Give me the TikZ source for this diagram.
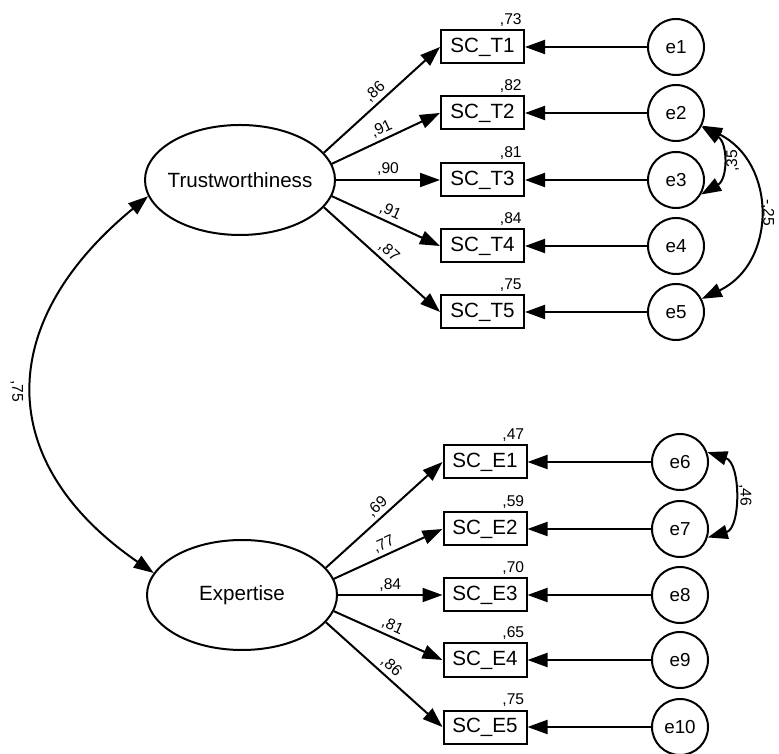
\documentclass[tikz,border=0pt]{standalone}
\usepackage{fontspec}
\setmainfont{Liberation Sans}
\usetikzlibrary{arrows.meta,shapes.geometric}

\tikzset{
  latent/.style={ellipse,draw,line width=1pt,minimum width=95pt,
    minimum height=55pt,inner sep=0pt,font=\fontsize{10.3}{12}\selectfont},
  observed/.style={rectangle,draw,line width=1pt,minimum width=41.5pt,
    minimum height=16.5pt,inner sep=0pt,font=\fontsize{10.3}{12}\selectfont},
  errterm/.style={circle,draw,line width=1pt,minimum size=28pt,
    inner sep=0pt,font=\fontsize{9.4}{11}\selectfont},
  loading/.style={-{Triangle[length=10pt,width=7pt]},line width=1pt},
  covar/.style={{Triangle[length=10pt,width=7pt]}-{Triangle[length=10pt,width=7pt]},
    line width=1pt},
  est/.style={font=\fontsize{7.8}{9}\selectfont,inner sep=1.5pt}
}

\begin{document}
\begin{tikzpicture}[x=0.5pt,y=0.5pt]
\useasboundingbox (0,0) rectangle (779,753);

% Latent factors
\node[latent] (trust) at (240,573) {\makebox[0pt]{Trustworthiness}};
\node[latent] (expert) at (242,158) {\makebox[0pt]{Expertise}};

% Trustworthiness items and error terms
\node[observed] (t1) at (482.5,706) {SC\_T1};
\node[observed] (t2) at (482.5,640) {SC\_T2};
\node[observed] (t3) at (482.5,573) {SC\_T3};
\node[observed] (t4) at (482.5,507) {SC\_T4};
\node[observed] (t5) at (482.5,441) {SC\_T5};
\node[errterm] (e1) at (676,706) {e1};
\node[errterm] (e2) at (676,640) {e2};
\node[errterm] (e3) at (676,573) {e3};
\node[errterm] (e4) at (676,507) {e4};
\node[errterm] (e5) at (676,441) {e5};

% Expertise items and error terms
\node[observed] (x1) at (485,291) {SC\_E1};
\node[observed] (x2) at (485,224) {SC\_E2};
\node[observed] (x3) at (485,158) {SC\_E3};
\node[observed] (x4) at (485,93) {SC\_E4};
\node[observed] (x5) at (485,26) {SC\_E5};
\node[errterm] (e6) at (680,291) {e6};
\node[errterm] (e7) at (680,224) {e7};
\node[errterm] (e8) at (680,158) {e8};
\node[errterm] (e9) at (680,93) {e9};
\node[errterm] (e10) at (680,26) {e10};

% Loadings of Trustworthiness
\draw[loading] (trust.18) -- node[est,sloped,above] {,86} (t1.west);
\draw[loading] (trust.10) -- node[est,sloped,above] {,91} (t2.west);
\draw[loading] (trust.0) -- node[est,sloped,above] {,90} (t3.west);
\draw[loading] (trust.-10) -- node[est,sloped,above] {,91} (t4.west);
\draw[loading] (trust.-18) -- node[est,sloped,above] {,87} (t5.west);

% Loadings of Expertise
\draw[loading] (expert.18) -- node[est,sloped,above] {,69} (x1.west);
\draw[loading] (expert.10) -- node[est,sloped,above] {,77} (x2.west);
\draw[loading] (expert.0) -- node[est,sloped,above] {,84} (x3.west);
\draw[loading] (expert.-10) -- node[est,sloped,above] {,81} (x4.west);
\draw[loading] (expert.-18) -- node[est,sloped,above] {,86} (x5.west);

% Error terms
\draw[loading] (e1) -- (t1);
\draw[loading] (e2) -- (t2);
\draw[loading] (e3) -- (t3);
\draw[loading] (e4) -- (t4);
\draw[loading] (e5) -- (t5);
\draw[loading] (e6) -- (x1);
\draw[loading] (e7) -- (x2);
\draw[loading] (e8) -- (x3);
\draw[loading] (e9) -- (x4);
\draw[loading] (e10) -- (x5);

% Squared multiple correlations
\node[est,anchor=south east] (r1) at (t1.north east) {,73};
\node[est,anchor=south east] (r2) at (t2.north east) {,82};
\node[est,anchor=south east] (r3) at (t3.north east) {,81};
\node[est,anchor=south east] (r4) at (t4.north east) {,84};
\node[est,anchor=south east] (r5) at (t5.north east) {,75};
\node[est,anchor=south east] (r6) at (x1.north east) {,47};
\node[est,anchor=south east] (r7) at (x2.north east) {,59};
\node[est,anchor=south east] (r8) at (x3.north east) {,70};
\node[est,anchor=south east] (r9) at (x4.north east) {,65};
\node[est,anchor=south east] (r10) at (x5.north east) {,75};

% Covariances
\draw[covar] (trust.190) .. controls (-6,430) and (-6,290) .. node[est,pos=0.5,rotate=-90,anchor=north,inner sep=4.5pt] {,75} (expert.166);
\draw[covar] (e2.-28) .. controls (728,610) and (728,574) .. node[est,pos=0.5,rotate=90,anchor=north,inner sep=2pt] {,35} (e3.-30);
\draw[covar] (e2.-26) .. controls (777,590) and (777,490) .. node[est,pos=0.5,rotate=-90,anchor=south,inner sep=1pt] {-,25} (e5.27);
\draw[covar] (e6.20) .. controls (741,290) and (741,225) .. node[est,pos=0.5,rotate=-90,anchor=south,inner sep=2.5pt] {,46} (e7.-17);
\end{tikzpicture}
\end{document}
